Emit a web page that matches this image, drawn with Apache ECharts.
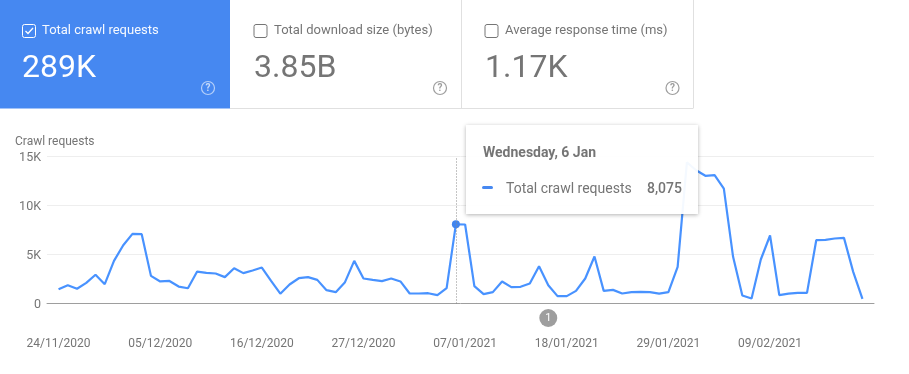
<!DOCTYPE html>
<html><head><meta charset="utf-8">
<style>html,body{margin:0;padding:0;background:#fff}#c{width:909px;height:374px}</style>
<script src="https://cdn.jsdelivr.net/npm/echarts@6/dist/echarts.min.js"></script>
</head><body><div id="c"></div>
<script>
const tickLabels=['24/11/2020','05/12/2020','16/12/2020','27/12/2020','07/01/2021','18/01/2021','29/01/2021','09/02/2021'];
const tickDays=[0,11,22,33,44,55,66,77];
const requests=[1460,1870,1500,2100,2930,1970,4350,5950,7100,7070,2820,2250,2300,1730,1560,3260,3130,3060,2690,3600,3100,3370,3670,2300,1000,1940,2580,2690,2410,1360,1160,2180,4350,2550,2410,2280,2550,2250,1020,1020,1050,850,1560,8075,8060,1770,950,1160,2250,1670,1700,2040,3810,1870,750,750,1290,2550,4800,1290,1390,1020,1160,1190,1160,1000,1160,3740,14400,13600,13030,13100,11730,4760,820,510,4490,6940,850,1000,1090,1090,6460,6500,6630,6700,3230,480];
const tileTitles=['Total crawl requests','Total download size (bytes)','Average response time (ms)'];
const tileValues=['289K','3.85B','1.17K'];
const annotation={day:53,label:'1',offset:-1480};
const tip={day:43,date:'Wednesday, 6 Jan',series:'Total crawl requests',value:'8,075'};
const BLUE='#4688f1',LINE='#4285ee',GREY='#757575',FONT='Roboto, sans-serif';
const tileX=[0,230,461],tileW=[230,231,232];
const g=[];
tileTitles.forEach((t,i)=>{
  const on=i===0,x=tileX[i],tc=on?'#fff':GREY;
  g.push({type:'rect',shape:{x,y:0,width:tileW[i],height:108.5},style:{fill:on?BLUE:'#fff'},z:1});
  if(!on){
    g.push({type:'line',shape:{x1:x,y1:108.5,x2:x+tileW[i],y2:108.5},style:{stroke:'#e0e0e0',lineWidth:1},z:2});
    g.push({type:'line',shape:{x1:x+tileW[i]+.5,y1:0,x2:x+tileW[i]+.5,y2:108.5},style:{stroke:'#e0e0e0',lineWidth:1},z:2});
  }
  const cbx=[23,255,486][i];
  g.push({type:'rect',shape:{x:cbx-.5+(on?0:-.5),y:24.5,width:13,height:13,r:2},style:{fill:'none',stroke:on?'#fff':GREY,lineWidth:1},z:3});
  if(on)g.push({type:'polyline',shape:{points:[[cbx+2.5,31],[cbx+5,33.5],[cbx+10,28]]},style:{fill:'none',stroke:'#fff',lineWidth:1.3},z:3});
  g.push({type:'text',x:cbx+19,y:31,style:{text:t,fill:tc,font:'13px '+FONT,textVerticalAlign:'middle',opacity:on?.95:1},z:3});
  g.push({type:'text',x:cbx-1,y:69,style:{text:tileValues[i],fill:tc,font:'32px '+FONT,textVerticalAlign:'middle'},z:3});
  const hx=[208,440,672.5][i];
  g.push({type:'circle',shape:{cx:hx,cy:88,r:6.5},style:{fill:'none',stroke:on?'rgba(255,255,255,.6)':'#9e9e9e',lineWidth:1.2},z:3});
  g.push({type:'text',x:hx,y:88,style:{text:'?',fill:on?'rgba(255,255,255,.7)':'#9e9e9e',font:'bold 10px '+FONT,textAlign:'center',textVerticalAlign:'middle'},z:3});
});
const chart=echarts.init(document.getElementById('c'));
chart.setOption({
  animation:false,
  title:{text:'Crawl requests',left:10,top:130,textStyle:{color:GREY,fontFamily:FONT,fontSize:12,fontWeight:'normal',lineHeight:14}},
  grid:{left:47,right:35,top:156.5,bottom:70.5},
  graphic:g,
  tooltip:{trigger:'axis',alwaysShowContent:true,transitionDuration:0,showDelay:0,hideDelay:1e9,
    position:[466,125],padding:0,borderWidth:0,backgroundColor:'rgba(255,255,255,.94)',
    extraCssText:'box-shadow:0 1px 4px rgba(0,0,0,.3);border-radius:0;width:232px;height:89px;box-sizing:border-box;',
    axisPointer:{type:'line',label:{show:false},lineStyle:{type:[1,2],color:'#8a8a8a',width:1}},
    formatter:()=>`<div style="position:relative;width:232px;height:89px;font-family:${FONT};color:${GREY};font-size:14px;line-height:16px">
      <div style="position:absolute;left:17px;top:19px;font-weight:700">${tip.date}</div>
      <div style="position:absolute;left:16px;top:61px;width:11px;height:3px;border-radius:2px;background:${BLUE}"></div>
      <div style="position:absolute;left:40px;top:55px">${tip.series}</div>
      <div style="position:absolute;right:16px;top:55px;font-weight:500">${tip.value}</div></div>`},
  xAxis:{type:'value',min:-1.25,max:88.25,splitLine:{show:false},
    axisLine:{onZero:true,lineStyle:{color:'#9e9e9e',width:1}},axisTick:{show:false},
    axisLabel:{customValues:tickDays,margin:34,color:GREY,fontFamily:FONT,fontSize:12,
      formatter:v=>tickLabels[tickDays.indexOf(v)]||''}},
  yAxis:{type:'value',min:0,max:15000,interval:5000,axisLine:{show:false},axisTick:{show:false},
    splitLine:{lineStyle:{color:'#eeeeee',width:1}},
    axisLabel:{margin:6,color:GREY,fontFamily:FONT,fontSize:12.5,
      rich:{t:{color:GREY,fontFamily:FONT,fontSize:12.5,padding:[3,0,0,0]}},
      formatter:v=>'{t|'+(v?v/1000+'K':'0')+'}'}},
  series:[{type:'line',data:requests.map((v,i)=>[i,v]),showSymbol:false,symbol:'circle',symbolSize:8,
    itemStyle:{color:LINE},lineStyle:{color:LINE,width:2.2},
    emphasis:{scale:1,lineStyle:{width:2.2}}}]
});
const [ax,ay]=chart.convertToPixel({xAxisIndex:0,yAxisIndex:0},[annotation.day,annotation.offset]);
chart.setOption({series:[{markPoint:{silent:true,symbol:'circle',symbolSize:18,itemStyle:{color:'#9e9e9e'},
  label:{color:'#fff',fontFamily:FONT,fontSize:11,formatter:annotation.label},
  data:[{x:ax,y:ay}]}}]});
chart.dispatchAction({type:'showTip',seriesIndex:0,dataIndex:tip.day});
</script></body></html>
